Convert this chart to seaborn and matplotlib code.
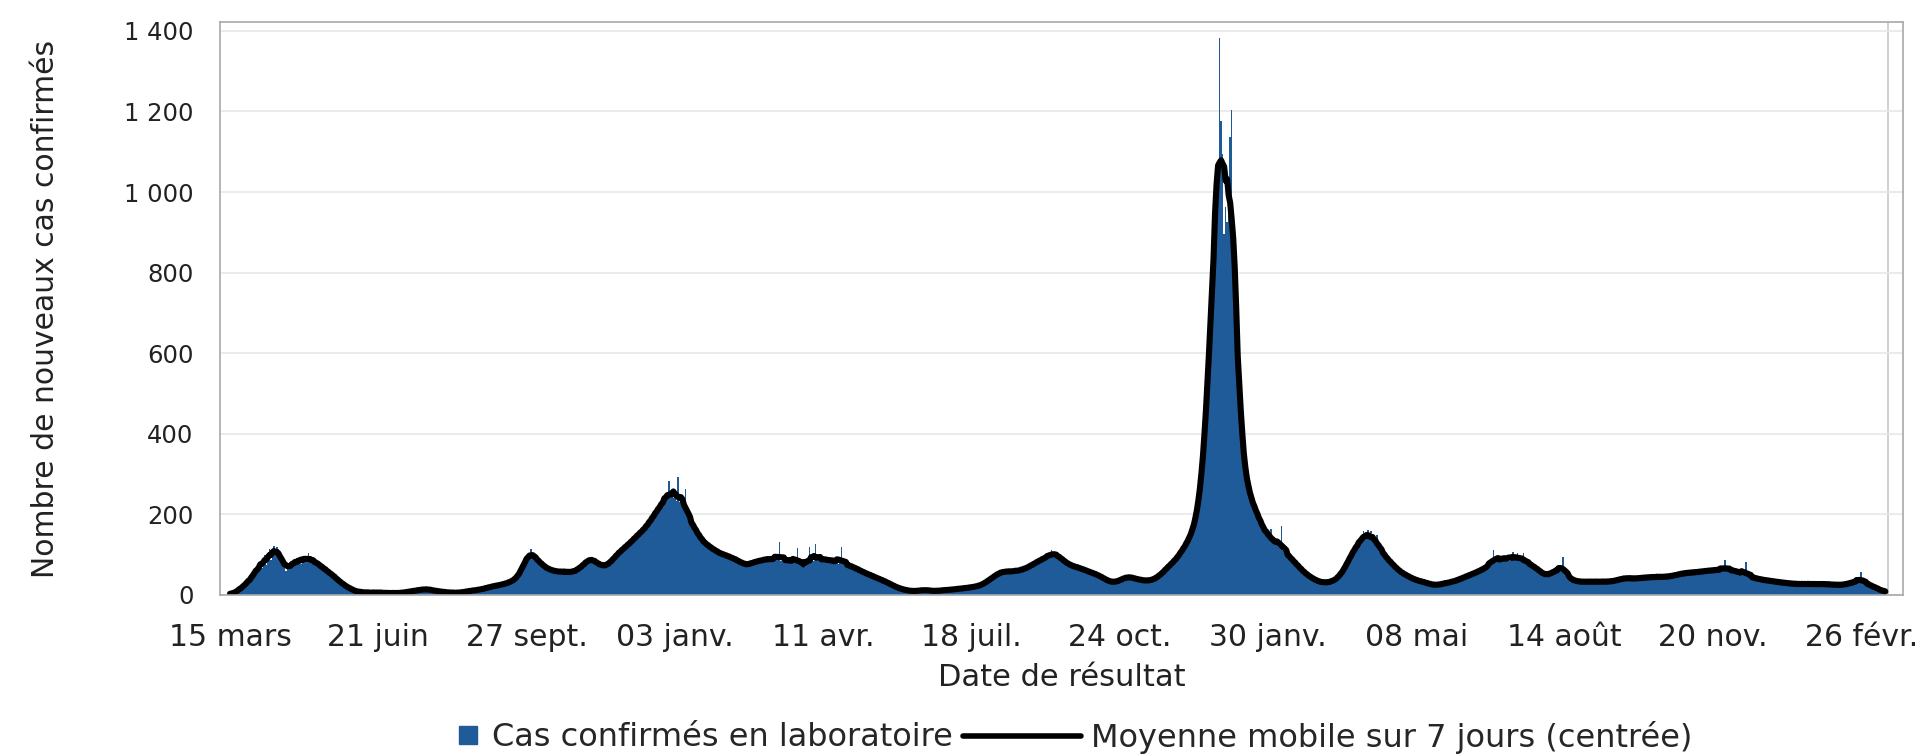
import numpy as np
import pandas as pd
import matplotlib
matplotlib.use("Agg")
import matplotlib.pyplot as plt
from matplotlib.lines import Line2D
import seaborn as sns

# Cas confirmés par jour, à partir du 15 mars 2020 (une ligne = une semaine)
cas_confirmes = [
    1, 3, 2, 6, 7, 11, 13,
    17, 19, 26, 21, 29, 36, 35,
    47, 49, 44, 63, 64, 75, 78,
    68, 86, 98, 74, 91, 114, 88,
    106, 121, 103, 119, 113, 94, 90,
    83, 69, 60, 72, 64, 81, 71,
    85, 74, 93, 81, 90, 78, 94,
    84, 97, 82, 103, 88, 80, 89,
    86, 75, 82, 70, 77, 66, 68,
    61, 63, 53, 60, 48, 50, 44,
    44, 38, 37, 30, 29, 24, 25,
    21, 22, 15, 15, 11, 12, 9,
    10, 7, 8, 5, 7, 9, 6,
    4, 7, 6, 7, 4, 6, 8,
    6, 4, 8, 5, 6, 5, 4,
    6, 3, 7, 5, 4, 6, 5,
    3, 6, 5, 8, 6, 9, 6,
    9, 8, 12, 9, 13, 12, 11,
    11, 16, 13, 14, 17, 13, 12,
    14, 10, 13, 9, 10, 9, 8,
    10, 6, 9, 5, 8, 6, 4,
    7, 6, 5, 7, 6, 4, 7,
    6, 9, 8, 9, 11, 10, 9,
    13, 10, 14, 13, 12, 16, 13,
    17, 16, 19, 18, 22, 19, 23,
    20, 25, 24, 24, 28, 23, 29,
    26, 31, 30, 33, 34, 36, 37,
    41, 44, 52, 56, 68, 70, 87,
    88, 101, 102, 113, 97, 98, 89,
    93, 81, 83, 74, 75, 68, 70,
    63, 66, 59, 63, 61, 57, 62,
    54, 62, 52, 60, 60, 57, 55,
    62, 52, 58, 55, 64, 58, 66,
    64, 73, 70, 78, 78, 87, 84,
    95, 88, 90, 82, 83, 76, 78,
    71, 75, 68, 77, 70, 78, 76,
    87, 85, 97, 95, 103, 101, 111,
    109, 119, 115, 126, 120, 131, 128,
    139, 135, 147, 145, 154, 150, 162,
    156, 169, 165, 178, 176, 190, 188,
    201, 197, 212, 209, 225, 220, 234,
    231, 246, 238, 283, 244, 257, 240,
    250, 233, 292, 230, 236, 221, 226,
    262, 195, 197, 180, 185, 168, 170,
    158, 160, 144, 143, 131, 136, 124,
    130, 119, 124, 114, 118, 108, 113,
    104, 109, 101, 105, 96, 101, 97,
    99, 93, 97, 89, 92, 85, 88,
    84, 87, 77, 80, 73, 77, 72,
    79, 74, 83, 79, 87, 80, 84,
    87, 82, 89, 86, 92, 85, 94,
    87, 91, 85, 92, 88, 90, 132,
    84, 90, 82, 92, 83, 90, 82,
    89, 81, 90, 79, 116, 77, 80,
    73, 77, 69, 79, 76, 120, 82,
    89, 84, 126, 86, 91, 89, 93,
    85, 90, 83, 92, 85, 89, 81,
    88, 82, 85, 77, 86, 120, 78,
    80, 73, 78, 71, 74, 67, 72,
    65, 69, 61, 64, 57, 60, 53,
    57, 51, 54, 47, 50, 44, 47,
    41, 44, 38, 40, 35, 37, 32,
    34, 28, 30, 24, 26, 20, 22,
    17, 19, 14, 16, 12, 15, 11,
    12, 9, 12, 8, 10, 9, 12,
    9, 12, 11, 13, 11, 14, 11,
    12, 9, 13, 9, 10, 8, 12,
    10, 13, 10, 14, 11, 13, 12,
    14, 12, 15, 14, 16, 13, 17,
    15, 18, 15, 19, 16, 20, 17,
    20, 18, 23, 20, 23, 22, 25,
    24, 29, 28, 35, 34, 40, 39,
    45, 44, 50, 50, 56, 54, 60,
    54, 62, 56, 58, 57, 61, 60,
    58, 57, 62, 59, 64, 61, 65,
    62, 68, 66, 73, 70, 76, 77,
    80, 77, 86, 83, 90, 87, 95,
    90, 96, 94, 101, 112, 98, 104,
    98, 101, 93, 95, 85, 87, 80,
    83, 74, 77, 70, 75, 68, 72,
    66, 70, 65, 67, 60, 64, 58,
    62, 56, 58, 52, 55, 50, 52,
    48, 50, 42, 44, 38, 40, 34,
    36, 31, 34, 29, 33, 32, 37,
    34, 40, 38, 44, 42, 47, 44,
    46, 41, 44, 39, 42, 37, 40,
    35, 39, 34, 38, 33, 37, 35,
    39, 36, 42, 40, 46, 45, 54,
    52, 60, 59, 68, 67, 77, 76,
    83, 81, 90, 89, 101, 100, 113,
    113, 125, 123, 135, 137, 152, 158,
    172, 182, 204, 216, 254, 286, 334,
    376, 444, 506, 594, 676, 764, 846,
    924, 986, 1054, 1382, 1176, 1094, 896,
    964, 926, 1004, 1136, 1203, 816, 764,
    676, 604, 496, 424, 366, 334, 306,
    284, 256, 254, 236, 234, 212, 214,
    196, 194, 181, 178, 162, 163, 147,
    148, 137, 163, 132, 135, 126, 127,
    119, 121, 170, 109, 111, 101, 103,
    93, 95, 85, 87, 77, 79, 69,
    71, 61, 63, 53, 56, 47, 50,
    43, 45, 38, 40, 34, 36, 31,
    34, 29, 33, 28, 34, 30, 35,
    30, 36, 35, 42, 41, 47, 50,
    58, 60, 71, 73, 87, 89, 103,
    103, 115, 115, 127, 127, 137, 135,
    160, 140, 147, 162, 138, 158, 136,
    137, 127, 150, 119, 119, 107, 107,
    95, 97, 87, 89, 79, 81, 71,
    73, 63, 65, 57, 59, 51, 55,
    47, 51, 43, 47, 39, 43, 35,
    39, 34, 37, 32, 35, 30, 33,
    28, 31, 25, 28, 23, 27, 22,
    27, 24, 29, 26, 29, 27, 32,
    29, 35, 28, 35, 32, 38, 35,
    40, 37, 44, 40, 47, 43, 51,
    46, 53, 49, 57, 52, 60, 55,
    63, 59, 67, 63, 73, 65, 77,
    75, 83, 112, 81, 89, 85, 93,
    87, 95, 85, 97, 87, 95, 85,
    95, 106, 87, 89, 104, 85, 89,
    85, 104, 81, 85, 75, 79, 71,
    75, 67, 71, 63, 63, 55, 58,
    49, 53, 45, 53, 49, 57, 53,
    61, 57, 65, 61, 69, 59, 95,
    63, 52, 51, 39, 43, 35, 39,
    32, 37, 31, 36, 31, 35, 29,
    36, 31, 35, 30, 37, 30, 35,
    31, 35, 30, 37, 30, 35, 31,
    37, 30, 35, 31, 38, 32, 39,
    34, 41, 36, 43, 38, 45, 40,
    45, 38, 43, 39, 44, 37, 45,
    38, 45, 40, 45, 41, 46, 41,
    47, 40, 48, 41, 49, 42, 47,
    42, 49, 41, 48, 43, 48, 44,
    49, 44, 51, 46, 53, 48, 55,
    49, 56, 51, 58, 51, 59, 52,
    59, 52, 60, 53, 61, 54, 61,
    56, 61, 57, 62, 58, 63, 59,
    64, 59, 63, 60, 66, 61, 66,
    59, 87, 60, 65, 61, 65, 58,
    63, 56, 61, 54, 59, 52, 57,
    49, 82, 45, 49, 42, 47, 40,
    45, 38, 43, 36, 41, 35, 40,
    34, 39, 32, 38, 32, 37, 30,
    36, 29, 34, 29, 34, 27, 33,
    27, 32, 25, 31, 26, 30, 25,
    30, 25, 30, 23, 31, 25, 30,
    24, 30, 25, 30, 23, 31, 24,
    30, 23, 31, 24, 29, 25, 30,
    23, 28, 23, 30, 22, 27, 23,
    28, 22, 28, 23, 30, 25, 31,
    27, 34, 29, 36, 31, 38, 35,
    57, 31, 35, 27, 31, 23, 27,
    19, 24, 17, 20, 14, 16, 10,
    12, 7, 6,
]

date_debut = "2020-03-15"
dates_reperes = ["2020-03-15", "2020-06-21", "2020-09-27", "2021-01-03",
                 "2021-04-11", "2021-07-18", "2021-10-24", "2022-01-30",
                 "2022-05-08", "2022-08-14", "2022-11-20", "2023-02-26"]
etiquettes_x = ["15 mars", "21 juin", "27 sept.", "03 janv.", "11 avr.",
                "18 juil.", "24 oct.", "30 janv.", "08 mai", "14 août",
                "20 nov.", "26 févr."]
valeurs_y = [0, 200, 400, 600, 800, 1000, 1200, 1400]

bleu = "#1f5b98"
gris = "#a8a8a8"
texte = "#222222"

# Table quotidienne + moyenne mobile centrée
debut = pd.Timestamp(date_debut)
df = pd.DataFrame({"date": pd.date_range(debut, periods=len(cas_confirmes)),
                   "cas": cas_confirmes})
df["jour"] = (df["date"] - debut).dt.days
df["moyenne"] = df["cas"].rolling(7, center=True, min_periods=1).mean()
reperes = [(pd.Timestamp(d) - debut).days for d in dates_reperes]

sns.set_style("white")
plt.rcParams["font.family"] = ["DejaVu Sans"]

fig, ax = plt.subplots(figsize=(19.25, 7.54), dpi=100)
fig.subplots_adjust(left=0.1143, right=0.9886, top=0.9708, bottom=0.2109)

ax.yaxis.grid(True, color="#e8e8e8", linewidth=1.2)
ax.set_axisbelow(True)

sns.histplot(data=df, x="jour", weights="cas", discrete=True, color=bleu,
             alpha=1, linewidth=0, ax=ax)
sns.lineplot(data=df, x="jour", y="moyenne", color="black", linewidth=4.4,
             ax=ax)
ax.axvline(df["jour"].iloc[-1] + 2, color="#c8c8c8", linewidth=1.2, zorder=0)

ax.set_xlim(-6.6, 1105.7)
ax.set_ylim(0, 1422)
ax.set_xticks(reperes)
ax.set_xticklabels(etiquettes_x)
ax.set_yticks(valeurs_y)
ax.set_yticklabels([f"{v:,}".replace(",", " ") for v in valeurs_y])

ax.tick_params(axis="x", labelsize=21.5, length=9, width=1, color=gris,
               pad=11, labelcolor=texte)
ax.tick_params(axis="y", labelsize=17.5, length=12, width=1, color=gris,
               pad=7, labelcolor=texte)
for s in ax.spines.values():
    s.set_color(gris)
    s.set_linewidth(1.2)

ax.set_xlabel("Date de résultat", fontsize=22, color=texte)
ax.xaxis.set_label_coords(0.5, -0.118)
ax.set_ylabel("Nombre de nouveaux cas confirmés", fontsize=21.5, color=texte)
ax.yaxis.set_label_coords(-0.095, 0.5)

# Légende en deux morceaux (carré bleu, puis trait noir)
carre = Line2D([], [], marker="s", linestyle="none", markersize=13, color=bleu)
trait = Line2D([], [], color="black", linewidth=4)
fig.legend([carre], ["Cas confirmés en laboratoire"], loc="center right",
           bbox_to_anchor=(953 / 1925, 1 - 738 / 754), frameon=False,
           fontsize=23, handlelength=0.6, handletextpad=0.45, borderpad=0,
           borderaxespad=0)
fig.legend([trait], ["Moyenne mobile sur 7 jours (centrée)"],
           loc="center left", bbox_to_anchor=(963 / 1925, 1 - 738 / 754),
           frameon=False, fontsize=23, handlelength=3.7, handletextpad=0.3,
           borderpad=0, borderaxespad=0)

plt.savefig("out.png", dpi=100)
